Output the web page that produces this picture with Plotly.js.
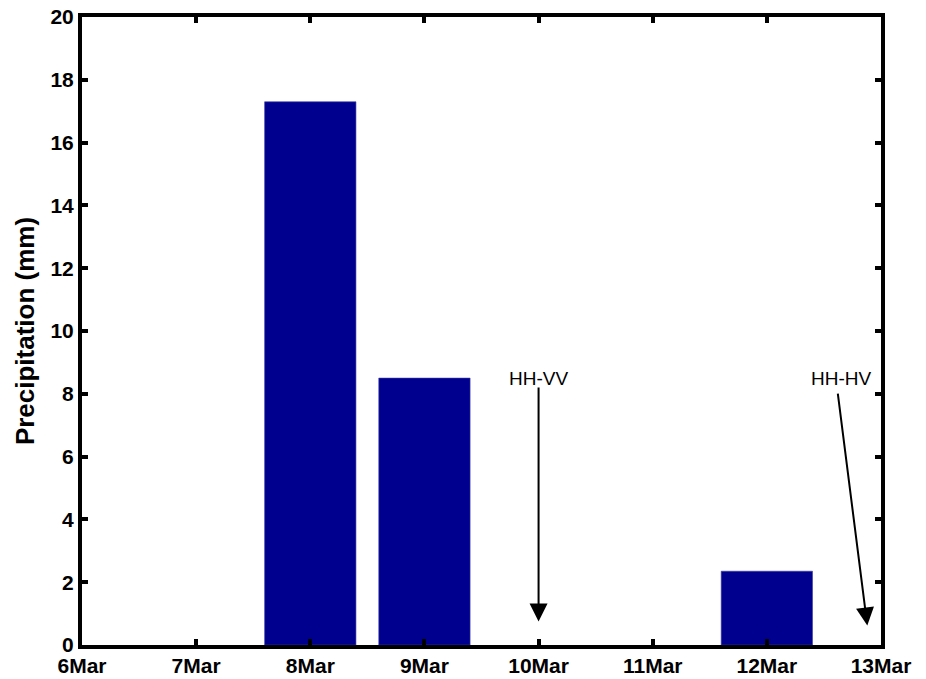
<!DOCTYPE html>
<html>
<head>
<meta charset="utf-8">
<script src="https://cdn.plot.ly/plotly-3.0.1.min.js"></script>
<style>
  html, body { margin: 0; padding: 0; background: #fff; }
  #chart { width: 926px; height: 679px; }
</style>
</head>
<body>
<div id="chart"></div>
<script>
// Daily precipitation, March
const dayLabels = ['6Mar', '7Mar', '8Mar', '9Mar', '10Mar', '11Mar', '12Mar', '13Mar'];
const rainDays = ['8Mar', '9Mar', '12Mar'];
const precipMm = [17.3, 8.5, 2.35];
const yTicks = [0, 2, 4, 6, 8, 10, 12, 14, 16, 18, 20];

const dayIndex = d => dayLabels.indexOf(d);

const bars = {
  type: 'bar',
  x: rainDays.map(dayIndex),
  y: precipMm,
  width: 0.8,
  marker: { color: '#00008F', line: { color: '#3a3aa8', width: 0.6 } },
  hoverinfo: 'skip'
};

const tickFont = { family: 'Liberation Sans, Arial, sans-serif', size: 21, color: '#000', weight: 'bold' };
const noteFont = { family: 'Liberation Sans, Arial, sans-serif', size: 19, color: '#000' };

const layout = {
  width: 926,
  height: 679,
  margin: { l: 82, r: 45, t: 17, b: 34 },
  paper_bgcolor: '#fff',
  plot_bgcolor: '#fff',
  showlegend: false,
  bargap: 0,
  xaxis: {
    range: [0, 7],
    tickvals: dayLabels.map((_, i) => i),
    ticktext: dayLabels,
    ticks: 'inside',
    ticklen: 6,
    tickwidth: 4,
    tickcolor: '#000',
    showline: true,
    linecolor: '#000',
    linewidth: 4,
    mirror: 'ticks',
    showgrid: false,
    zeroline: false,
    tickfont: tickFont,
    ticklabelstandoff: -1
  },
  yaxis: {
    range: [0, 20],
    tickvals: yTicks,
    ticktext: yTicks.map(String),
    ticks: 'inside',
    ticklen: 6,
    tickwidth: 4,
    tickcolor: '#000',
    showline: true,
    linecolor: '#000',
    linewidth: 4,
    mirror: 'ticks',
    showgrid: false,
    zeroline: false,
    tickfont: tickFont,
    title: {
      text: 'Precipitation (mm)',
      font: { family: 'Liberation Sans, Arial, sans-serif', size: 26, color: '#000', weight: 'bold' },
      standoff: 9
    }
  },
  annotations: [
    // polarisation pair labels
    { x: dayIndex('10Mar'), y: 8.5, xref: 'x', yref: 'y', text: 'HH-VV', showarrow: false, font: noteFont },
    { x: 6.65, y: 8.5, xref: 'x', yref: 'y', text: 'HH-HV', showarrow: false, font: noteFont },
    // arrows pointing down to the acquisition dates
    { x: dayIndex('10Mar'), y: 0.75, xref: 'x', yref: 'y', ax: dayIndex('10Mar'), ay: 8.25, axref: 'x', ayref: 'y',
      text: '', showarrow: true, arrowhead: 2, arrowsize: 1.8, arrowwidth: 2, arrowcolor: '#000' },
    { x: 6.88, y: 0.62, xref: 'x', yref: 'y', ax: 6.62, ay: 8.05, axref: 'x', ayref: 'y',
      text: '', showarrow: true, arrowhead: 2, arrowsize: 1.8, arrowwidth: 2, arrowcolor: '#000' }
  ]
};

Plotly.newPlot('chart', [bars], layout, { displayModeBar: false, staticPlot: true });
</script>
</body>
</html>
